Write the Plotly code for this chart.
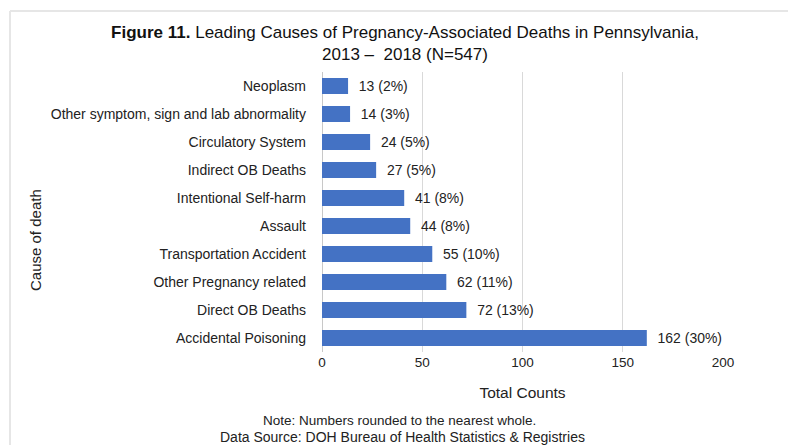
import plotly.graph_objects as go

categories = ["Neoplasm", "Other symptom, sign and lab abnormality", "Circulatory System",
              "Indirect OB Deaths", "Intentional Self-harm", "Assault",
              "Transportation Accident", "Other Pregnancy related", "Direct OB Deaths",
              "Accidental Poisoning"]
counts = [13, 14, 24, 27, 41, 44, 55, 62, 72, 162]
percents = [2, 3, 5, 5, 8, 8, 10, 11, 13, 30]
x_ticks = [0, 50, 100, 150, 200]

labels = [f"  {c} ({p}%)" for c, p in zip(counts, percents)]

W, H = 788, 445
L, R, T, B = 322, 65, 72, 93
pw, ph = W - L - R, H - T - B

def px(x):
    return (x - L) / pw

def py(y):
    return (H - B - y) / ph

fig = go.Figure(go.Bar(
    x=counts, y=categories, orientation="h",
    marker=dict(color="#4472C4", line=dict(width=0)),
    text=labels, textposition="outside", cliponaxis=False,
    textfont=dict(size=14, color="#222222"),
))

font = "Liberation Sans, Arial, sans-serif"
fig.update_layout(
    width=W, height=H,
    margin=dict(l=L, r=R, t=T, b=B),
    paper_bgcolor="white", plot_bgcolor="white",
    font=dict(family=font, size=14, color="#222222"),
    bargap=0.43,
    showlegend=False,
    title=dict(
        text="<b>Figure 11.</b> Leading Causes of Pregnancy-Associated Deaths in Pennsylvania,<br>2013 –  2018 (N=547)",
        x=px(405), xref="paper", xanchor="center",
        y=1 - 38 / H, yref="container", yanchor="top",
        font=dict(size=17, color="#111111"),
    ),
    xaxis=dict(
        range=[0, 200], tickvals=x_ticks, showgrid=True, gridcolor="#d9d9d9", gridwidth=1,
        zeroline=True, zerolinecolor="#c8c8c8", zerolinewidth=1,
        ticks="", tickfont=dict(size=13.5),
        title=dict(text="Total Counts", font=dict(size=15.5), standoff=18),
    ),
    yaxis=dict(
        categoryorder="array", categoryarray=categories[::-1],
        showgrid=False, ticks="", ticklen=0, tickfont=dict(size=14),
        automargin=False, ticklabelstandoff=15,
    ),
    annotations=[
        dict(text="Cause of death", textangle=-90, x=px(35), y=py(240),
             xref="paper", yref="paper", showarrow=False, font=dict(size=15),
             xanchor="center", yanchor="middle"),
        dict(text="Note: Numbers rounded to the nearest whole.", x=px(399), y=py(420),
             xref="paper", yref="paper", showarrow=False, font=dict(size=13.5),
             xanchor="center", yanchor="middle"),
        dict(text="Data Source: DOH Bureau of Health Statistics &amp; Registries", x=px(402), y=py(437),
             xref="paper", yref="paper", showarrow=False, font=dict(size=14),
             xanchor="center", yanchor="middle"),
    ],
    shapes=[
        dict(type="line", xref="paper", yref="paper", x0=px(10), x1=px(790), y0=py(11), y1=py(11),
             line=dict(color="#e6e6e6", width=2)),
        dict(type="line", xref="paper", yref="paper", x0=px(10), x1=px(10), y0=py(11), y1=py(447),
             line=dict(color="#e6e6e6", width=2)),
    ],
)

fig.write_html("out.html")
